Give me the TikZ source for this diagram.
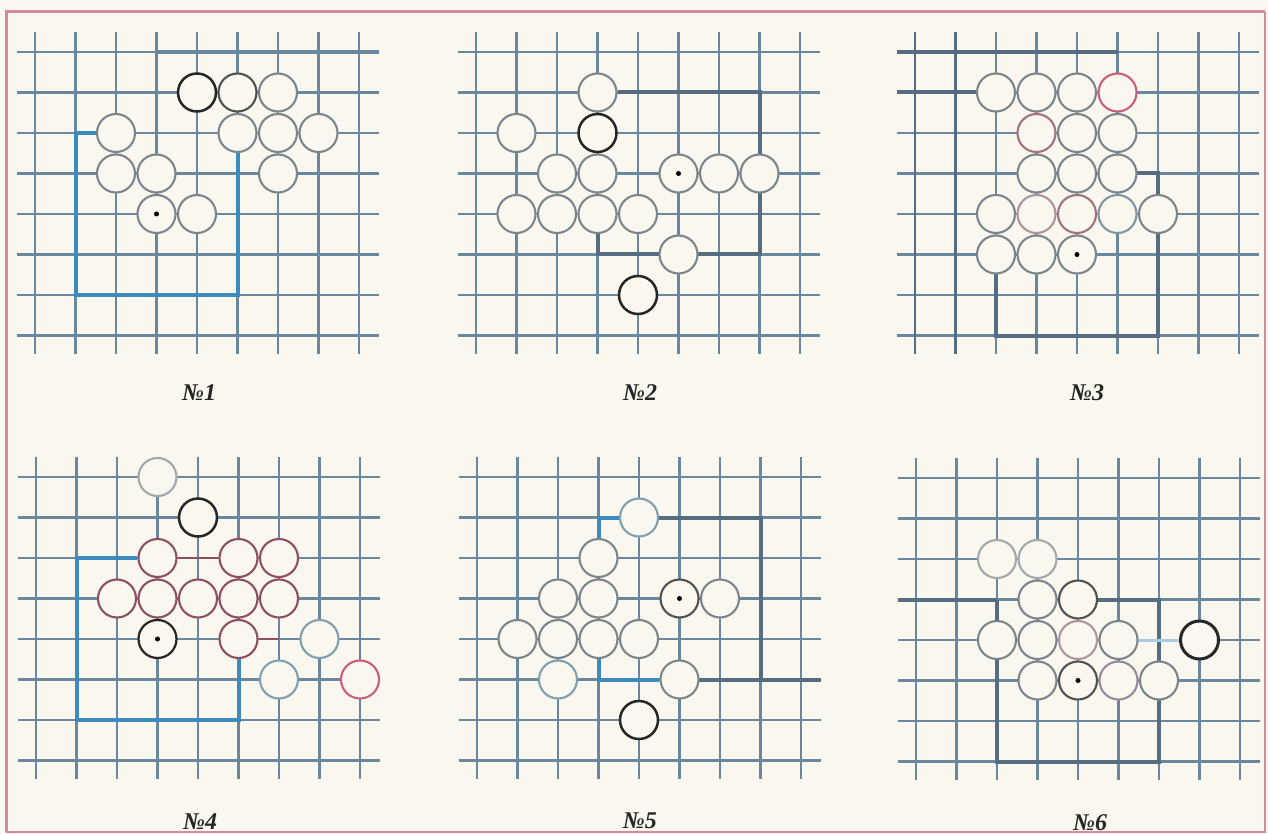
\documentclass[tikz,border=0pt]{standalone}
\usepackage{fontspec}
\setmainfont{Liberation Serif}
\usetikzlibrary{positioning}
\definecolor{paper}{HTML}{F9F7EE}
\definecolor{gridc}{HTML}{6A87A0}
\definecolor{wallblue}{HTML}{3D8BBE}
\definecolor{walldark}{HTML}{566C80}
\definecolor{stonegray}{HTML}{7C858C}
\definecolor{stoneblack}{HTML}{262626}
\definecolor{stonered}{HTML}{8E4F62}
\definecolor{stonepink}{HTML}{C95E7A}
\definecolor{stoneblue}{HTML}{7FA0B0}
\definecolor{stonelight}{HTML}{A3A8AB}
\definecolor{framec}{HTML}{D58A9A}

\tikzset{
  gridln/.style={gridc, line width=2.4pt},
  wallb/.style={wallblue, line width=4pt},
  walld/.style={walldark, line width=4pt},
  redlink/.style={stonered, line width=2.8pt},
  stone/.style={circle, draw=stonegray, fill=paper, line width=2.1pt,
    minimum size=38pt, inner sep=0pt},
  blackstone/.style={stone, draw=stoneblack, line width=2.5pt},
  darkstone/.style={stone, draw=stoneblack!80},
  redstone/.style={stone, draw=stonered},
  pinkstone/.style={stone, draw=stonepink},
  bluestone/.style={stone, draw=stoneblue},
  lightstone/.style={stone, draw=stonelight},
  marked/.style={path picture={\fill[black] (path picture bounding box.center) circle (2.5pt);}},
  numlabel/.style={font=\fontsize{24}{26}\selectfont\bfseries\itshape, text=black!85}
}

% one 9 x 8 board, in cell units
\newcommand{\boardgrid}{%
  \foreach \c in {0,...,8} \draw[gridln] (\c,-0.5) -- (\c,7.45);
  \foreach \r in {0,...,7} \draw[gridln] (-0.45,\r) -- (8.5,\r);
}

\begin{document}
\begin{tikzpicture}[x=1pt,y=-1pt]
  \fill[paper] (0,0) rectangle (1268,834);
  \useasboundingbox (0,0) rectangle (1268,834);

  % frame
  \draw[framec, line width=1.4pt] (1265,12) -- (1265,832) -- (6,832);
  \draw[framec, line width=3pt] (6,832) -- (6,12) -- (1265,12);

  % No 1
  \begin{scope}[shift={(35pt,-52pt)}, x=40.5pt, y=-40.5pt]
    \boardgrid
    \draw[gridln, line width=3.2pt] (3,0) -- (8.5,0);
    \draw[wallb] (2,2) -- (1,2) -- (1,6) -- (5,6) -- (5,2.5);
    \node[blackstone] (a41) at (4,1) {};
    \node[darkstone] (a51) at (5,1) {};
    \foreach \c/\r in {6/1,2/2,5/2,6/2,7/2,2/3,3/3,6/3,4/4}
      \node[stone] (a\c\r) at (\c,\r) {};
    \node[stone, marked] (a34) at (3,4) {};
    \node[numlabel] (lab1) at (4.05,8.4) {№1};
  \end{scope}

  % No 2
  \begin{scope}[shift={(476pt,-52pt)}, x=40.5pt, y=-40.5pt]
    \boardgrid
    \draw[walld] (3.5,1) -- (7,1) -- (7,5) -- (3,5) -- (3,4.5);
    \foreach \c/\r in {3/1,1/2,2/3,3/3,6/3,7/3,1/4,2/4,3/4,4/4,5/5}
      \node[stone] (b\c\r) at (\c,\r) {};
    \node[blackstone] (b32) at (3,2) {};
    \node[blackstone] (b46) at (4,6) {};
    \node[stone, marked] (b53) at (5,3) {};
    \node[numlabel] (lab2) at (4.05,8.4) {№2};
  \end{scope}

  % No 3
  \begin{scope}[shift={(915pt,-52pt)}, x=40.5pt, y=-40.5pt]
    \boardgrid
    \draw[walldark, line width=2.6pt] (0,-0.5) -- (0,7.45) (1,-0.5) -- (1,7.45);
    \draw[walld] (-0.45,0) -- (5,0);
    \draw[walld] (-0.45,1) -- (1.5,1);
    \draw[walld] (2,5) -- (2,7) -- (6,7) -- (6,3) -- (5,3);
    \foreach \c/\r in {2/1,3/1,4/1,4/2,5/2,3/3,4/3,5/3,2/4,6/4,2/5,3/5}
      \node[stone] (c\c\r) at (\c,\r) {};
    \node[pinkstone] (c51) at (5,1) {};
    \node[stone, draw=stonepink!55!stonegray] (c32) at (3,2) {};
    \node[stone, draw=stonepink!30!stonelight] (c34) at (3,4) {};
    \node[stone, draw=stonepink!45!stonegray] (c44) at (4,4) {};
    \node[stone, draw=stoneblue!60!stonegray] (c54) at (5,4) {};
    \node[stone, marked] (c45) at (4,5) {};
    \node[numlabel] (lab3) at (4.25,8.4) {№3};
  \end{scope}

  % No 4
  \begin{scope}[shift={(36pt,-477pt)}, x=40.5pt, y=-40.5pt]
    \boardgrid
    \draw[wallb] (2.5,2) -- (1,2) -- (1,6) -- (5,6) -- (5,4.5);
    \node[lightstone] (d30) at (3,0) {};
    \node[blackstone] (d41) at (4,1) {};
    \foreach \c/\r in {3/2,5/2,6/2,2/3,3/3,4/3,5/3,6/3,5/4}
      \node[redstone] (d\c\r) at (\c,\r) {};
    \node[blackstone, line width=2.2pt, marked] (d34) at (3,4) {};
    \node[bluestone] (d74) at (7,4) {};
    \node[bluestone] (d65) at (6,5) {};
    \node[pinkstone] (d85) at (8,5) {};
    \coordinate (d64) at (6,4);
    \draw[redlink] (d32) -- (d52);
    \draw[redlink] (d54) -- (d64);
    \node[numlabel] (lab4) at (4.05,8.5) {№4};
  \end{scope}

  % No 5
  \begin{scope}[shift={(477pt,-477pt)}, x=40.5pt, y=-40.5pt]
    \boardgrid
    \draw[walld] (4.5,1) -- (7,1) -- (7,5) -- (5,5);
    \draw[walld] (5.5,5) -- (8.5,5);
    \draw[wallb] (3.5,1) -- (3,1) -- (3,2);
    \draw[wallb] (3,4.5) -- (3,5) -- (4.5,5);
    \node[bluestone] (e41) at (4,1) {};
    \node[bluestone] (e25) at (2,5) {};
    \foreach \c/\r in {3/2,2/3,3/3,6/3,1/4,2/4,3/4,4/4,5/5}
      \node[stone] (e\c\r) at (\c,\r) {};
    \node[darkstone, marked] (e53) at (5,3) {};
    \node[blackstone] (e46) at (4,6) {};
    \node[numlabel] (lab5) at (4.02,8.5) {№5};
  \end{scope}

  % No 6
  \begin{scope}[shift={(916pt,-478pt)}, x=40.5pt, y=-40.5pt]
    \boardgrid
    \draw[walld] (-0.45,3) -- (2,3);
    \draw[walld] (4.5,3) -- (6,3) -- (6,7) -- (2,7) -- (2,3);
    \draw[wallblue!45, line width=3pt] (5.4,4) -- (6.5,4);
    \node[lightstone] (f22) at (2,2) {};
    \node[lightstone] (f32) at (3,2) {};
    \foreach \c/\r in {3/3,2/4,3/4,5/4,3/5,6/5}
      \node[stone] (f\c\r) at (\c,\r) {};
    \node[darkstone] (f43) at (4,3) {};
    \node[stone, draw=stonepink!25!stonelight] (f44) at (4,4) {};
    \node[stone, draw=stonepink!35!stoneblue] (f55) at (5,5) {};
    \node[blackstone, line width=3pt] (f74) at (7,4) {};
    \node[darkstone, marked] (f45) at (4,5) {};
    \node[numlabel] (lab6) at (4.3,8.5) {№6};
  \end{scope}
\end{tikzpicture}
\end{document}
